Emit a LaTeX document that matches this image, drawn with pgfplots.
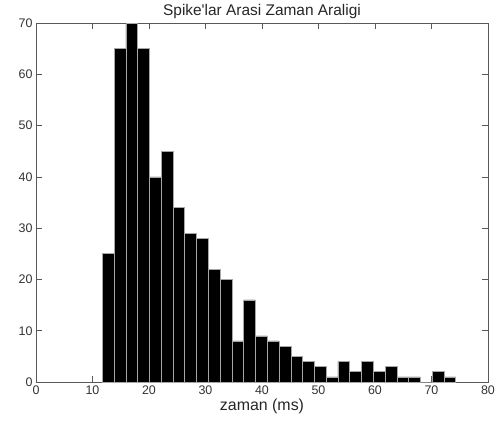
\documentclass[border=0pt]{standalone}
\usepackage{fontspec}
\setmainfont{Liberation Sans}[Ligatures=TeXOff]
\usepackage{pgfplots}
\pgfplotsset{compat=1.18}
\begin{document}
\begin{tikzpicture}[x=1bp,y=1bp]
\begin{axis}[
  at={(0,0)}, anchor=south west,
  scale only axis,
  width=452bp, height=359bp,
  xmin=0, xmax=80, ymin=0, ymax=70,
  xtick={0,10,...,80}, ytick={0,10,...,70},
  tick align=inside,
  major tick length=6bp,
  axis line style={draw=black!65, line width=0.8pt},
  tick style={draw=black!65, line width=0.7pt},
  ticklabel style={font=\fontsize{12.5}{14}\selectfont, text=black!80},
  /pgf/number format/assume math mode=true,
  xlabel={zaman (ms)},
  xlabel style={font=\fontsize{16}{18}\selectfont, yshift=2bp, text=black!85},
  title={Spike'lar Arasi Zaman Araligi},
  title style={font=\fontsize{15.5}{17}\selectfont, yshift=-5bp, text=black!85},
  clip=true,
]
\addplot[ybar interval, fill=black, draw=gray!70, line width=0.6pt] coordinates {
(11.740,25) (13.825,65) (15.910,70) (17.995,65) (20.080,40) (22.165,45)
(24.250,34) (26.335,29) (28.420,28) (30.505,22) (32.590,20) (34.675,8)
(36.760,16) (38.845,9) (40.930,8) (43.015,7) (45.100,5) (47.185,4)
(49.270,3) (51.355,1) (53.440,4) (55.525,2) (57.610,4) (59.695,2)
(61.780,3) (63.865,1) (65.950,1) (68.035,0) (70.120,2) (72.205,1)
(74.290,1)
};
\end{axis}
\path (-36bp,-44bp) rectangle (465bp,382bp);
\end{tikzpicture}
\end{document}
